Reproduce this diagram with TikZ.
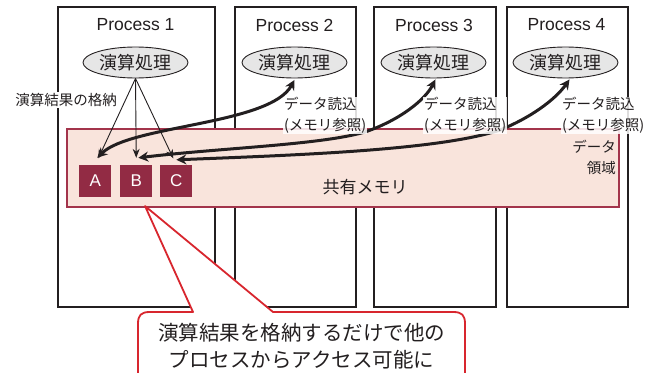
\documentclass[tikz,border=0pt]{standalone}
\usepackage{fontspec}
\setmainfont{Liberation Sans}
\newfontfamily\jp{Noto Sans CJK JP}
\usetikzlibrary{arrows.meta,shapes.geometric}
\definecolor{ink}{HTML}{231F20}
\definecolor{mempink}{HTML}{F9E4DC}
\definecolor{memred}{HTML}{A3344B}
\definecolor{sqred}{HTML}{922B44}
\definecolor{callred}{HTML}{D8262E}
\definecolor{ellgray}{HTML}{E6E6E6}
\begin{document}
\begin{tikzpicture}[x=1pt,y=-1pt,
  pbox/.style={draw=ink, line width=1.8pt, fill=white, anchor=north west, inner sep=0pt, minimum height=300pt},
  ptitle/.style={font=\fontsize{17.5}{20}\selectfont, text=ink, inner sep=0pt},
  ell/.style={ellipse, draw=ink, line width=0.9pt, fill=ellgray, minimum width=105pt, minimum height=31pt, inner sep=0pt, font=\jp\fontsize{18}{20}\selectfont, text=ink},
  mem/.style={draw=memred, line width=2pt, fill=mempink, anchor=north west, inner sep=0pt},
  sq/.style={fill=sqred, minimum size=32pt, inner sep=0pt, text=white, font=\fontsize{17}{20}\selectfont},
  lbl/.style={font=\jp\fontsize{14.5}{21}\selectfont, text=ink, inner sep=0pt},
  readlbl/.style={lbl, anchor=west, align=left, fill=white, fill opacity=0.85, text opacity=1, inner sep=0.8pt},
  thinarrow/.style={draw=ink, line width=0.9pt, -{Stealth[length=9pt,width=7pt]}},
  dbl/.style={draw=ink, line width=3pt, {Stealth[length=10pt,width=10pt]}-{Stealth[length=10pt,width=10pt]}},
  callout/.style={draw=callred, line width=1.8pt, fill=white, line join=round},
  ctext/.style={font=\jp\fontsize{20.5}{27}\selectfont, text=ink, align=center, inner sep=0pt}
]
\useasboundingbox (0,0) rectangle (660,372);
\clip (0,0) rectangle (660,372);

% process boxes
\node[pbox, minimum width=157pt] (p1) at (57,6) {};
\node[pbox, minimum width=121pt] (p2) at (234,6) {};
\node[pbox, minimum width=122pt] (p3) at (373,6) {};
\node[pbox, minimum width=121pt] (p4) at (506,6) {};

\node[ptitle] (t1) at (135.5,25) {Process 1};
\node[ptitle] (t2) at (294.5,25) {Process 2};
\node[ptitle] (t3) at (434,25) {Process 3};
\node[ptitle] (t4) at (566.5,25) {Process 4};

% shared memory
\node[mem, minimum width=552pt, minimum height=78pt] (mem) at (66,128) {};
\node[font=\jp\fontsize{17}{20}\selectfont, text=ink, inner sep=0pt] (shm) at (365,187) {共有メモリ};
\node[lbl, anchor=east, align=right] (dl) at (616,157) {データ\\領域};

\node[sq] (a) at (95.3,181) {A};
\node[sq] (b) at (136.3,181) {B};
\node[sq] (c) at (176.3,181) {C};

% ellipses
\node[ell] (e1) at (135.5,62.5) {演算処理};
\node[ell] (e2) at (294.5,62.5) {演算処理};
\node[ell] (e3) at (433.5,62.5) {演算処理};
\node[ell] (e4) at (565.5,62.5) {演算処理};

% store arrows
\draw[thinarrow, shorten >=7pt] (e1.south) -- (a.north);
\draw[thinarrow, shorten >=7pt] (e1.south) -- (b.north);
\draw[thinarrow, shorten >=7pt] (e1.south) -- (c.north);
\node[lbl, fill=white, inner sep=1.5pt] (store) at (66,100) {演算結果の格納};

% read arrows
\coordinate (aT) at ([xshift=2pt,yshift=7pt]a.north);
\coordinate (bT) at ([xshift=2pt,yshift=7pt]b.north);
\coordinate (cT) at ([yshift=5pt]c.north);
\coordinate (e2T) at ([yshift=-1.5pt]e2.south);
\coordinate (e3T) at ([xshift=2pt,yshift=-1pt]e3.south);
\coordinate (e4T) at ([xshift=4pt,yshift=-1pt]e4.south);

\draw[dbl] (aT) .. controls (130,125) and (270,125) .. (e2T);
\draw[dbl] (bT) .. controls (220,148) and (320,145) .. (365,132) .. controls (400,120) and (425,100) .. (e3T);
\draw[dbl] (cT) .. controls (300,155) and (440,150) .. (500,130) .. controls (530,118) and (555,100) .. (e4T);

% read labels
\node[readlbl] (r2) at (283,115.5) {データ読込\\(メモリ参照)};
\node[readlbl] (r3) at (423,115.5) {データ読込\\(メモリ参照)};
\node[readlbl] (r4) at (561,115.5) {データ読込\\(メモリ参照)};

% callout
\coordinate (tip) at (145,206);
\draw[callout] (tip) -- (273,312) -- (453,312) .. controls (462,312) and (465,315) .. (465,324) -- (465,400) -- (138,400) -- (138,324) .. controls (138,315) and (141,312) .. (150,312) -- (193,312) -- cycle;
\node[ctext] (ct) at (301.5,346.5) {演算結果を格納するだけで他の\\プロセスからアクセス可能に};
\end{tikzpicture}
\end{document}
